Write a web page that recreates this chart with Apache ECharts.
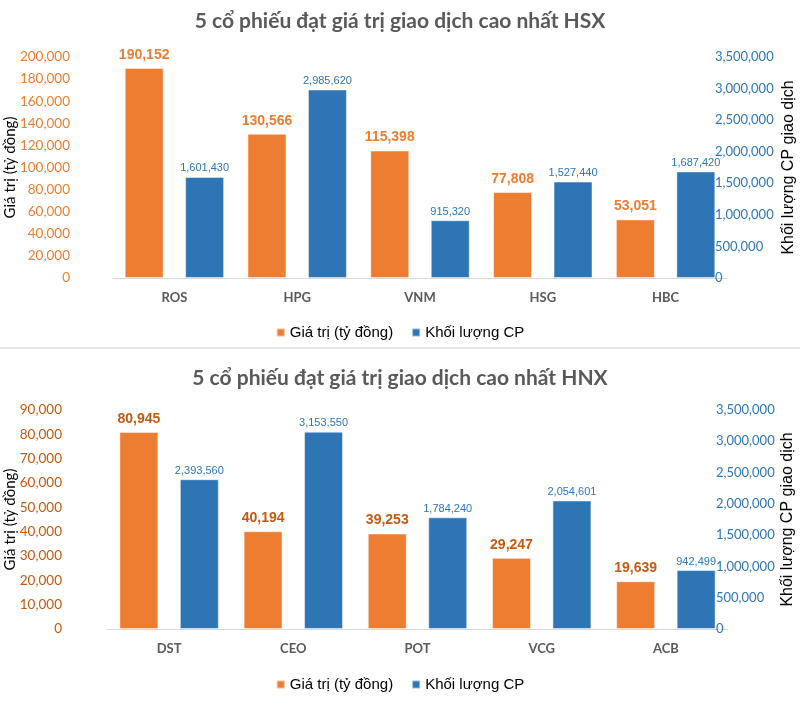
<!DOCTYPE html>
<html><head><meta charset="utf-8">
<script src="https://cdn.jsdelivr.net/npm/echarts@6/dist/echarts.min.js"></script>
<style>html,body{margin:0;padding:0;background:#fff}#c{width:800px;height:722px}</style>
</head><body><div id="c"></div>
<script>
const hsxCategories = ['ROS', 'HPG', 'VNM', 'HSG', 'HBC'];
const hsxValue = [190152, 130566, 115398, 77808, 53051];
const hsxVolume = [1601430, 2985620, 915320, 1527440, 1687420];
const hnxCategories = ['DST', 'CEO', 'POT', 'VCG', 'ACB'];
const hnxValue = [80945, 40194, 39253, 29247, 19639];
const hnxVolume = [2393560, 3153550, 1784240, 2054601, 942499];
const hsxLeftTicks = {min: 0, max: 200000, interval: 20000};
const hnxLeftTicks = {min: 0, max: 90000, interval: 10000};
const rightTicks = {min: 0, max: 3500000, interval: 500000};
const seriesNames = ['Giá trị (tỷ đồng)', 'Khối lượng CP'];
const titles = ['5 cổ phiếu đạt giá trị giao dịch cao nhất HSX', '5 cổ phiếu đạt giá trị giao dịch cao nhất HNX'];

const ORANGE = '#ED7D31', BLUE = '#2E75B6';
const fmt = v => Number(v).toLocaleString('en-US');
const calibri = 'Lato, "Open Sans", sans-serif';
const narrow = '"Liberation Sans Narrow", "Arial Narrow", sans-serif';

const chart = echarts.init(document.getElementById('c'));

function leftAxis(gi, t, color, gap, margin) {
  return {
    type: 'value', gridIndex: gi, position: 'left', min: t.min, max: t.max, interval: t.interval,
    name: 'Giá trị (tỷ đồng)', nameLocation: 'middle', nameGap: gap, nameMoveOverlap: false,
    nameTextStyle: {fontFamily: calibri, fontSize: 15, color: '#000'},
    axisLine: {show: false}, axisTick: {show: false}, splitLine: {show: false},
    axisLabel: {formatter: fmt, color: color, fontFamily: calibri, fontSize: 13.5, margin: margin}
  };
}
function rightAxis(gi, gap) {
  return {
    type: 'value', gridIndex: gi, position: 'right', min: rightTicks.min, max: rightTicks.max, interval: rightTicks.interval,
    name: 'Khối lượng CP giao dịch', nameLocation: 'middle', nameGap: gap, nameMoveOverlap: false,
    nameTextStyle: {fontFamily: '"Liberation Sans", Arial, sans-serif', fontSize: 16, color: '#000'},
    axisLine: {show: false}, axisTick: {show: false}, splitLine: {show: false},
    axisLabel: {formatter: fmt, color: BLUE, fontFamily: calibri, fontSize: 13, margin: -12}
  };
}
function xAxis(gi, cats) {
  return {
    type: 'category', gridIndex: gi, data: cats,
    axisLine: {lineStyle: {color: '#d9d9d9', width: 1}}, axisTick: {show: false},
    axisLabel: {color: '#595959', fontFamily: calibri, fontWeight: 'bold', fontSize: 13, margin: 13}
  };
}
function barSeries(name, xi, yi, data, color, labelColor, bold, size, dist) {
  return {
    type: 'bar', name: name, xAxisIndex: xi, yAxisIndex: yi, data: data,
    barWidth: 39, barGap: '55%',
    itemStyle: {color: color, borderColor: 'rgba(255,255,255,0.5)', borderWidth: 1},
    label: {show: true, position: 'top', distance: dist, formatter: p => fmt(p.value),
      color: labelColor, fontFamily: narrow, fontWeight: bold ? 'bold' : 'normal', fontSize: size}
  };
}

chart.setOption({
  animation: false,
  color: [ORANGE, BLUE],
  title: [
    {text: titles[0], left: 'center', top: 6, textStyle: {fontFamily: calibri, fontWeight: 'bold', fontSize: 21, color: '#595959'}},
    {text: titles[1], left: 'center', top: 363, textStyle: {fontFamily: calibri, fontWeight: 'bold', fontSize: 21, color: '#595959'}}
  ],
  legend: [
    {data: seriesNames, left: 'center', top: 320, itemWidth: 8, itemHeight: 8, itemGap: 18,
      textStyle: {fontFamily: narrow, fontSize: 15, color: '#000'}, icon: 'rect'},
    {data: seriesNames, left: 'center', top: 672, itemWidth: 8, itemHeight: 8, itemGap: 18,
      textStyle: {fontFamily: narrow, fontSize: 15, color: '#000'}, icon: 'rect'}
  ],
  grid: [
    {left: 113, right: 73, top: 57, bottom: 722 - 278, outerBoundsMode: 'none', containLabel: false},
    {left: 107, right: 72, top: 410, bottom: 722 - 629, outerBoundsMode: 'none', containLabel: false}
  ],
  xAxis: [xAxis(0, hsxCategories), xAxis(1, hnxCategories)],
  yAxis: [leftAxis(0, hsxLeftTicks, ORANGE, 95, 43), rightAxis(0, 54), leftAxis(1, hnxLeftTicks, '#C55A11', 89, 45), rightAxis(1, 52)],
  series: [
    barSeries(seriesNames[0], 0, 0, hsxValue, ORANGE, ORANGE, true, 14, 6),
    barSeries(seriesNames[1], 0, 1, hsxVolume, BLUE, '#2E75B6', false, 11, 3),
    barSeries(seriesNames[0], 1, 2, hnxValue, ORANGE, '#C55A11', true, 14, 6),
    barSeries(seriesNames[1], 1, 3, hnxVolume, BLUE, '#2E75B6', false, 11, 3)
  ],
  graphic: [
    {type: 'rect', left: 0, top: 347, shape: {width: 800, height: 2}, style: {fill: '#e6e6e6'}, silent: true}
  ]
});
</script></body></html>
